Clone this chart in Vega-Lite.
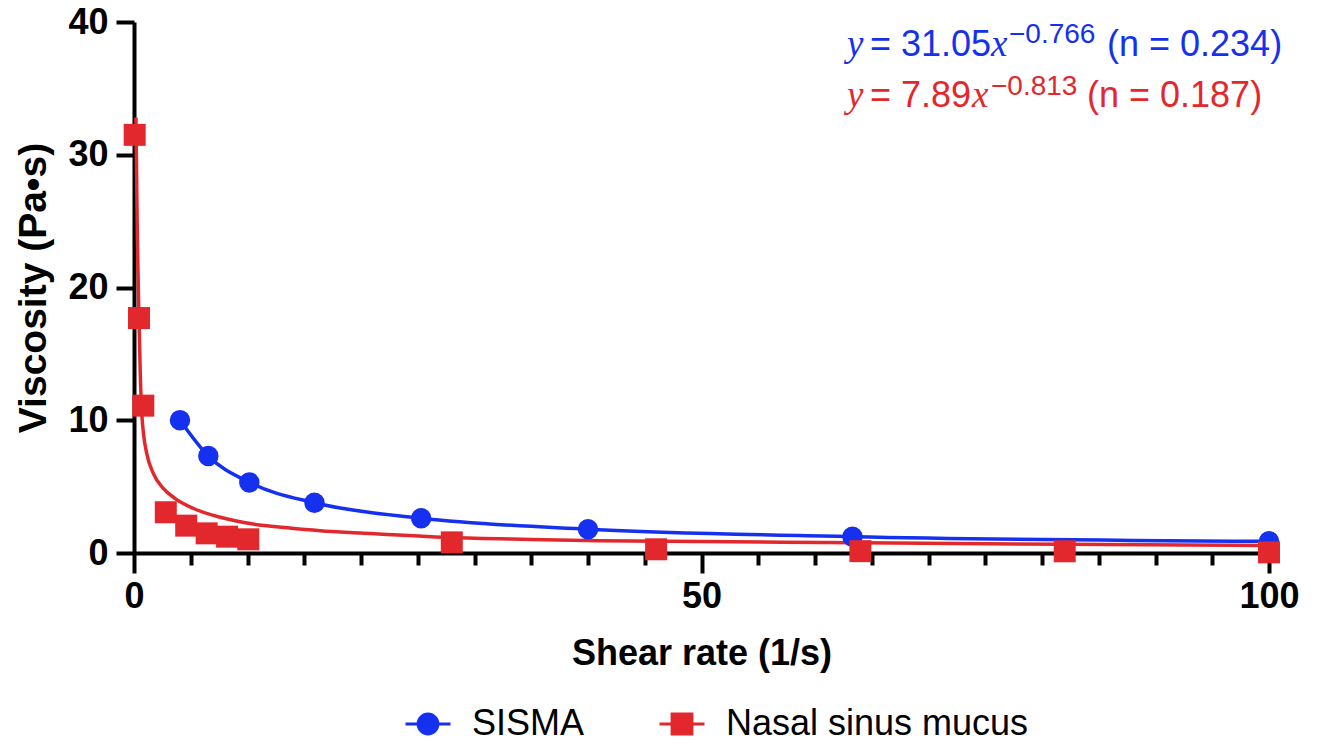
{
  "$schema": "https://vega.github.io/schema/vega-lite/v6.json",
  "width": 1135,
  "height": 531,
  "autosize": {"type": "none"},
  "padding": {"left": 134, "top": 22, "right": 48, "bottom": 190},
  "background": "white",
  "datasets": {
    "points": [
      {"series": "SISMA", "shear": 4.05, "visc": 10.0},
      {"series": "SISMA", "shear": 6.55, "visc": 7.3},
      {"series": "SISMA", "shear": 10.16, "visc": 5.32},
      {"series": "SISMA", "shear": 15.9, "visc": 3.78},
      {"series": "SISMA", "shear": 25.3, "visc": 2.62},
      {"series": "SISMA", "shear": 40.0, "visc": 1.79},
      {"series": "SISMA", "shear": 63.3, "visc": 1.23},
      {"series": "SISMA", "shear": 100, "visc": 0.88},
      {"series": "Nasal sinus mucus", "shear": 0.06, "visc": 31.5},
      {"series": "Nasal sinus mucus", "shear": 0.44, "visc": 17.7},
      {"series": "Nasal sinus mucus", "shear": 0.82, "visc": 11.1},
      {"series": "Nasal sinus mucus", "shear": 2.8, "visc": 3.07},
      {"series": "Nasal sinus mucus", "shear": 4.6, "visc": 2.06},
      {"series": "Nasal sinus mucus", "shear": 6.4, "visc": 1.48},
      {"series": "Nasal sinus mucus", "shear": 8.2, "visc": 1.23},
      {"series": "Nasal sinus mucus", "shear": 10.07, "visc": 1.03},
      {"series": "Nasal sinus mucus", "shear": 28.0, "visc": 0.8},
      {"series": "Nasal sinus mucus", "shear": 46.0, "visc": 0.28},
      {"series": "Nasal sinus mucus", "shear": 64.0, "visc": 0.14},
      {"series": "Nasal sinus mucus", "shear": 82.0, "visc": 0.13},
      {"series": "Nasal sinus mucus", "shear": 100, "visc": 0.05}
    ],
    "nasalFit": [
      {"shear": 0.17, "visc": 32.8},
      {"shear": 0.3, "visc": 23.5},
      {"shear": 0.44, "visc": 17.6},
      {"shear": 0.55, "visc": 13.6},
      {"shear": 0.68, "visc": 10.6},
      {"shear": 0.85, "visc": 8.9},
      {"shear": 1.12, "visc": 7.5},
      {"shear": 1.7, "visc": 6.0},
      {"shear": 2.58, "visc": 4.87},
      {"shear": 3.6, "visc": 4.12},
      {"shear": 5.2, "visc": 3.37},
      {"shear": 7.6, "visc": 2.69},
      {"shear": 10.5, "visc": 2.18},
      {"shear": 13.5, "visc": 1.9},
      {"shear": 16.4, "visc": 1.68},
      {"shear": 20, "visc": 1.5},
      {"shear": 27.8, "visc": 1.16},
      {"shear": 35, "visc": 1.02},
      {"shear": 41, "visc": 0.93},
      {"shear": 50, "visc": 0.87},
      {"shear": 64, "visc": 0.77},
      {"shear": 82, "visc": 0.66},
      {"shear": 100, "visc": 0.57}
    ]
  },
  "layer": [
    {
      "data": {"name": "nasalFit"},
      "mark": {"type": "line", "color": "#e2282d", "strokeWidth": 3.5, "interpolate": "monotone"},
      "encoding": {
        "x": {
          "field": "shear", "type": "quantitative",
          "scale": {"domain": [0, 100], "nice": false, "zero": true},
          "axis": {
            "values": [0, 5, 10, 15, 20, 25, 30, 35, 40, 45, 50, 55, 60, 65, 70, 75, 80, 85, 90, 95, 100],
            "labelExpr": "datum.value % 50 === 0 ? datum.label : ''",
            "tickSize": {"condition": {"test": "datum.value % 50 === 0", "value": 20}, "value": 12},
            "title": "Shear rate (1/s)",
            "grid": false
          }
        },
        "y": {
          "field": "visc", "type": "quantitative",
          "scale": {"domain": [0, 40], "nice": false},
          "axis": {
            "values": [0, 10, 20, 30, 40],
            "tickSize": 18,
            "title": "Viscosity (Pa•s)",
            "titleFontSize": 39,
            "grid": false
          }
        }
      }
    },
    {
      "data": {"name": "points"},
      "transform": [{"filter": "datum.series === 'SISMA'"}],
      "mark": {"type": "line", "color": "#1530ee", "strokeWidth": 3.5, "interpolate": "monotone"},
      "encoding": {
        "x": {"field": "shear", "type": "quantitative"},
        "y": {"field": "visc", "type": "quantitative"}
      }
    },
    {
      "data": {"name": "points"},
      "transform": [{"filter": "datum.series === 'SISMA'"}],
      "mark": {"type": "point", "shape": "circle", "size": 420, "filled": true, "opacity": 1, "strokeWidth": 0, "color": "#1530ee"},
      "encoding": {
        "x": {"field": "shear", "type": "quantitative"},
        "y": {"field": "visc", "type": "quantitative"}
      }
    },
    {
      "data": {"name": "points"},
      "transform": [{"filter": "datum.series === 'Nasal sinus mucus'"}],
      "mark": {"type": "point", "shape": "square", "size": 484, "filled": true, "opacity": 1, "strokeWidth": 0, "color": "#e2282d"},
      "encoding": {
        "x": {"field": "shear", "type": "quantitative"},
        "y": {"field": "visc", "type": "quantitative"}
      }
    },
    {
      "data": {"name": "points"},
      "transform": [{"filter": "false"}],
      "mark": {"type": "point", "filled": true, "opacity": 1, "strokeWidth": 3},
      "encoding": {
        "x": {"field": "shear", "type": "quantitative"},
        "y": {"field": "visc", "type": "quantitative"},
        "color": {
          "field": "series", "type": "nominal",
          "scale": {"domain": ["SISMA", "Nasal sinus mucus"], "range": ["#1530ee", "#e2282d"]},
          "legend": {
            "orient": "none",
            "legendX": 270,
            "legendY": 678,
            "direction": "horizontal",
            "title": null,
            "padding": 0,
            "symbolSize": 2025,
            "symbolStrokeWidth": 3,
            "labelOffset": 20,
            "columnPadding": 68,
            "labelLimit": 0,
            "labelFont": "Liberation Sans",
            "labelFontSize": 36,
            "labelColor": "black"
          }
        },
        "stroke": {
          "field": "series", "type": "nominal",
          "scale": {"domain": ["SISMA", "Nasal sinus mucus"], "range": ["#1530ee", "#e2282d"]}
        },
        "shape": {
          "field": "series", "type": "nominal",
          "scale": {
            "domain": ["SISMA", "Nasal sinus mucus"],
            "range": [
              "M-1,0H1M0.44,0A0.44,0.44,0,1,1,-0.44,0A0.44,0.44,0,1,1,0.44,0Z",
              "M-1,0H1M-0.44,-0.44H0.44V0.44H-0.44Z"
            ]
          }
        }
      }
    },
    {"data": {"values": [{}]}, "mark": {"type": "text", "text": "y", "font": "Liberation Serif", "fontStyle": "italic", "fontSize": 37, "color": "#1530ee", "align": "left", "baseline": "alphabetic", "dx": 2.5}, "encoding": {"x": {"datum": 62.6}, "y": {"datum": 37.44}}},
    {"data": {"values": [{}]}, "mark": {"type": "text", "text": "= 31.05", "font": "Liberation Sans", "fontSize": 36, "color": "#1530ee", "align": "left", "baseline": "alphabetic", "dx": 25.5}, "encoding": {"x": {"datum": 62.6}, "y": {"datum": 37.44}}},
    {"data": {"values": [{}]}, "mark": {"type": "text", "text": "x", "font": "Liberation Serif", "fontStyle": "italic", "fontSize": 37, "color": "#1530ee", "align": "left", "baseline": "alphabetic", "dx": 146.5}, "encoding": {"x": {"datum": 62.6}, "y": {"datum": 37.44}}},
    {"data": {"values": [{}]}, "mark": {"type": "text", "text": "−0.766", "font": "Liberation Sans", "fontSize": 28, "color": "#1530ee", "align": "left", "baseline": "alphabetic", "dx": 164.5, "dy": -13}, "encoding": {"x": {"datum": 62.6}, "y": {"datum": 37.44}}},
    {"data": {"values": [{}]}, "mark": {"type": "text", "text": "(n = 0.234)", "font": "Liberation Sans", "fontSize": 36, "color": "#1530ee", "align": "left", "baseline": "alphabetic", "dx": 262.5}, "encoding": {"x": {"datum": 62.6}, "y": {"datum": 37.44}}},
    {"data": {"values": [{}]}, "mark": {"type": "text", "text": "y", "font": "Liberation Serif", "fontStyle": "italic", "fontSize": 37, "color": "#e2282d", "align": "left", "baseline": "alphabetic", "dx": 2.5}, "encoding": {"x": {"datum": 62.6}, "y": {"datum": 33.6}}},
    {"data": {"values": [{}]}, "mark": {"type": "text", "text": "= 7.89", "font": "Liberation Sans", "fontSize": 36, "color": "#e2282d", "align": "left", "baseline": "alphabetic", "dx": 25.5}, "encoding": {"x": {"datum": 62.6}, "y": {"datum": 33.6}}},
    {"data": {"values": [{}]}, "mark": {"type": "text", "text": "x", "font": "Liberation Serif", "fontStyle": "italic", "fontSize": 37, "color": "#e2282d", "align": "left", "baseline": "alphabetic", "dx": 127.5}, "encoding": {"x": {"datum": 62.6}, "y": {"datum": 33.6}}},
    {"data": {"values": [{}]}, "mark": {"type": "text", "text": "−0.813", "font": "Liberation Sans", "fontSize": 28, "color": "#e2282d", "align": "left", "baseline": "alphabetic", "dx": 146.5, "dy": -12}, "encoding": {"x": {"datum": 62.6}, "y": {"datum": 33.6}}},
    {"data": {"values": [{}]}, "mark": {"type": "text", "text": "(n = 0.187)", "font": "Liberation Sans", "fontSize": 36, "color": "#e2282d", "align": "left", "baseline": "alphabetic", "dx": 242.5}, "encoding": {"x": {"datum": 62.6}, "y": {"datum": 33.6}}}
  ],
  "config": {
    "view": {"stroke": null},
    "axis": {
      "domainColor": "black",
      "domainWidth": 4,
      "tickColor": "black",
      "tickWidth": 4,
      "labelFont": "Liberation Sans",
      "labelFontWeight": "bold",
      "labelFontSize": 36,
      "labelColor": "black",
      "labelPadding": 6,
      "titleFont": "Liberation Sans",
      "titleFontWeight": "bold",
      "titleFontSize": 36,
      "titleColor": "black"
    },
    "axisX": {"titlePadding": 22, "labelFlush": false, "labelOverlap": false},
    "axisY": {"titlePadding": 14, "labelPadding": 8}
  }
}
